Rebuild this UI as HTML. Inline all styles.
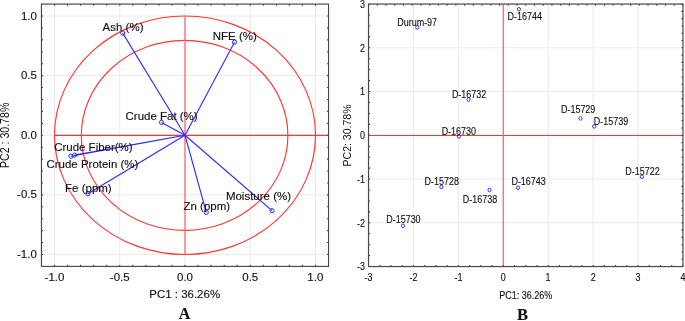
<!DOCTYPE html>
<html><head><meta charset="utf-8"><title>PCA plots</title>
<style>html,body{margin:0;padding:0;background:#fff;width:685px;height:321px;overflow:hidden}svg{display:block}</style>
</head><body>
<svg width="685" height="321" viewBox="0 0 685 321">
<rect width="685" height="321" fill="#fff"/>
<path d="M54.50 4.07V266.43M41.45 254.50H328.55M119.75 4.07V266.43M41.45 194.88H328.55M185.00 4.07V266.43M41.45 135.25H328.55M250.25 4.07V266.43M41.45 75.62H328.55M315.50 4.07V266.43M41.45 16.00H328.55" stroke="#eaeaea" stroke-width="1" fill="none"/>
<ellipse cx="185.0" cy="135.25" rx="130.5" ry="119.25" stroke="#ff3535" stroke-width="1.15" fill="none"/>
<ellipse cx="184.6" cy="135.4" rx="103.3" ry="95.0" stroke="#ff3535" stroke-width="1.15" fill="none"/>
<path d="M54.50 135.35H328.55" stroke="#ff3535" stroke-width="1.15" fill="none"/>
<path d="M185.00 16.00V254.50" stroke="#ff7272" stroke-width="1.4" fill="none"/>
<path d="M54.50 4.07v1.6M54.50 266.43v-1.6M41.45 254.50h1.6M328.55 254.50h-1.6M67.55 4.07v1.6M67.55 266.43v-1.6M41.45 242.57h1.6M328.55 242.57h-1.6M80.60 4.07v1.6M80.60 266.43v-1.6M41.45 230.65h1.6M328.55 230.65h-1.6M93.65 4.07v1.6M93.65 266.43v-1.6M41.45 218.72h1.6M328.55 218.72h-1.6M106.70 4.07v1.6M106.70 266.43v-1.6M41.45 206.80h1.6M328.55 206.80h-1.6M119.75 4.07v1.6M119.75 266.43v-1.6M41.45 194.88h1.6M328.55 194.88h-1.6M132.80 4.07v1.6M132.80 266.43v-1.6M41.45 182.95h1.6M328.55 182.95h-1.6M145.85 4.07v1.6M145.85 266.43v-1.6M41.45 171.03h1.6M328.55 171.03h-1.6M158.90 4.07v1.6M158.90 266.43v-1.6M41.45 159.10h1.6M328.55 159.10h-1.6M171.95 4.07v1.6M171.95 266.43v-1.6M41.45 147.18h1.6M328.55 147.18h-1.6M185.00 4.07v1.6M185.00 266.43v-1.6M41.45 135.25h1.6M328.55 135.25h-1.6M198.05 4.07v1.6M198.05 266.43v-1.6M41.45 123.33h1.6M328.55 123.33h-1.6M211.10 4.07v1.6M211.10 266.43v-1.6M41.45 111.40h1.6M328.55 111.40h-1.6M224.15 4.07v1.6M224.15 266.43v-1.6M41.45 99.47h1.6M328.55 99.47h-1.6M237.20 4.07v1.6M237.20 266.43v-1.6M41.45 87.55h1.6M328.55 87.55h-1.6M250.25 4.07v1.6M250.25 266.43v-1.6M41.45 75.62h1.6M328.55 75.62h-1.6M263.30 4.07v1.6M263.30 266.43v-1.6M41.45 63.70h1.6M328.55 63.70h-1.6M276.35 4.07v1.6M276.35 266.43v-1.6M41.45 51.78h1.6M328.55 51.78h-1.6M289.40 4.07v1.6M289.40 266.43v-1.6M41.45 39.85h1.6M328.55 39.85h-1.6M302.45 4.07v1.6M302.45 266.43v-1.6M41.45 27.92h1.6M328.55 27.92h-1.6M315.50 4.07v1.6M315.50 266.43v-1.6M41.45 16.00h1.6M328.55 16.00h-1.6" stroke="#484848" stroke-width="1.1" fill="none"/>
<rect x="41.45" y="4.07" width="287.10" height="262.35" stroke="#484848" stroke-width="1.15" fill="none"/>
<path d="M185.00 135.25L122.70 33.10M185.00 135.25L234.50 42.20M185.00 135.25L161.50 122.40M185.00 135.25L70.90 156.20M185.00 135.25L74.60 155.10M185.00 135.25L87.90 193.70M185.00 135.25L206.30 212.40M185.00 135.25L272.00 210.70" stroke="#2a2aff" stroke-width="1.1" fill="none"/>
<circle cx="122.7" cy="33.1" r="2.1" stroke="#2a2aff" stroke-width="1" fill="none"/>
<circle cx="234.5" cy="42.2" r="2.1" stroke="#2a2aff" stroke-width="1" fill="none"/>
<circle cx="161.5" cy="122.4" r="2.1" stroke="#2a2aff" stroke-width="1" fill="none"/>
<circle cx="70.9" cy="156.2" r="2.1" stroke="#2a2aff" stroke-width="1" fill="none"/>
<circle cx="74.6" cy="155.1" r="2.1" stroke="#2a2aff" stroke-width="1" fill="none"/>
<circle cx="87.9" cy="193.7" r="2.1" stroke="#2a2aff" stroke-width="1" fill="none"/>
<circle cx="206.3" cy="212.4" r="2.1" stroke="#2a2aff" stroke-width="1" fill="none"/>
<circle cx="272.0" cy="210.7" r="2.1" stroke="#2a2aff" stroke-width="1" fill="none"/>
<text transform="translate(102.61 30.90) scale(1.1156 1)" font-size="10.3" font-family='"Liberation Sans", Arial, sans-serif' fill="#111" stroke="#111" stroke-width="0.12">Ash (%)</text>
<text transform="translate(212.76 39.80) scale(1.1156 1)" font-size="10.3" font-family='"Liberation Sans", Arial, sans-serif' fill="#111" stroke="#111" stroke-width="0.12">NFE (%)</text>
<text transform="translate(125.54 119.80) scale(1.1156 1)" font-size="10.3" font-family='"Liberation Sans", Arial, sans-serif' fill="#111" stroke="#111" stroke-width="0.12">Crude Fat (%)</text>
<text transform="translate(54.14 150.70) scale(1.1156 1)" font-size="10.3" font-family='"Liberation Sans", Arial, sans-serif' fill="#111" stroke="#111" stroke-width="0.12">Crude Fiber(%)</text>
<text transform="translate(46.43 167.90) scale(1.1156 1)" font-size="10.3" font-family='"Liberation Sans", Arial, sans-serif' fill="#111" stroke="#111" stroke-width="0.12">Crude Protein (%)</text>
<text transform="translate(65.08 192.40) scale(1.1156 1)" font-size="10.3" font-family='"Liberation Sans", Arial, sans-serif' fill="#111" stroke="#111" stroke-width="0.12">Fe (ppm)</text>
<text transform="translate(183.47 209.90) scale(1.1156 1)" font-size="10.3" font-family='"Liberation Sans", Arial, sans-serif' fill="#111" stroke="#111" stroke-width="0.12">Zn (ppm)</text>
<text transform="translate(225.92 199.90) scale(1.1156 1)" font-size="10.3" font-family='"Liberation Sans", Arial, sans-serif' fill="#111" stroke="#111" stroke-width="0.12">Moisture (%)</text>
<text transform="translate(149.23 298.10) scale(1.1156 1)" font-size="10.3" font-family='"Liberation Sans", Arial, sans-serif' fill="#111" stroke="#111" stroke-width="0.12">PC1 : 36.26%</text>
<text transform="translate(20.88 19.50) scale(1.1156 1)" font-size="10.3" font-family='"Liberation Sans", Arial, sans-serif' fill="#111" stroke="#111" stroke-width="0.12">1.0</text>
<text transform="translate(307.30 280.90) scale(1.1156 1)" font-size="10.3" font-family='"Liberation Sans", Arial, sans-serif' fill="#111" stroke="#111" stroke-width="0.12">1.0</text>
<text transform="translate(20.91 79.12) scale(1.1156 1)" font-size="10.3" font-family='"Liberation Sans", Arial, sans-serif' fill="#111" stroke="#111" stroke-width="0.12">0.5</text>
<text transform="translate(242.28 280.90) scale(1.1156 1)" font-size="10.3" font-family='"Liberation Sans", Arial, sans-serif' fill="#111" stroke="#111" stroke-width="0.12">0.5</text>
<text transform="translate(20.88 138.75) scale(1.1156 1)" font-size="10.3" font-family='"Liberation Sans", Arial, sans-serif' fill="#111" stroke="#111" stroke-width="0.12">0.0</text>
<text transform="translate(177.01 280.90) scale(1.1156 1)" font-size="10.3" font-family='"Liberation Sans", Arial, sans-serif' fill="#111" stroke="#111" stroke-width="0.12">0.0</text>
<text transform="translate(17.08 198.38) scale(1.1156 1)" font-size="10.3" font-family='"Liberation Sans", Arial, sans-serif' fill="#111" stroke="#111" stroke-width="0.12">-0.5</text>
<text transform="translate(109.84 280.90) scale(1.1156 1)" font-size="10.3" font-family='"Liberation Sans", Arial, sans-serif' fill="#111" stroke="#111" stroke-width="0.12">-0.5</text>
<text transform="translate(17.05 258.00) scale(1.1156 1)" font-size="10.3" font-family='"Liberation Sans", Arial, sans-serif' fill="#111" stroke="#111" stroke-width="0.12">-1.0</text>
<text transform="translate(44.57 280.90) scale(1.1156 1)" font-size="10.3" font-family='"Liberation Sans", Arial, sans-serif' fill="#111" stroke="#111" stroke-width="0.12">-1.0</text>
<text transform="translate(8.80 167.97) rotate(-90) scale(0.9990 1.2000)" font-size="10.6" font-family='"Liberation Sans", Arial, sans-serif' fill="#111">PC2 : 30.78%</text>
<text transform="translate(178.68 319.10) scale(0.9500 1)" font-size="16.9" font-family='"Liberation Serif", "Times New Roman", serif' font-weight="bold" fill="#111" stroke="#111" stroke-width="0.12">A</text>
<path d="M413.46 4.05V266.55M458.38 4.05V266.55M548.22 4.05V266.55M593.14 4.05V266.55M638.06 4.05V266.55M368.54 222.80H682.98M368.54 179.05H682.98M368.54 91.55H682.98M368.54 47.80H682.98" stroke="#eaeaea" stroke-width="1" fill="none"/>
<path d="M368.54 135.45H682.98" stroke="#ff3535" stroke-width="1.15" fill="none"/>
<path d="M503.30 4.05V266.55" stroke="#ff7272" stroke-width="1.4" fill="none"/>
<path d="M368.54 266.55v-1.6M379.77 266.55v-1.6M391.00 266.55v-1.6M402.23 266.55v-1.6M413.46 266.55v-1.6M424.69 266.55v-1.6M435.92 266.55v-1.6M447.15 266.55v-1.6M458.38 266.55v-1.6M469.61 266.55v-1.6M480.84 266.55v-1.6M492.07 266.55v-1.6M503.30 266.55v-1.6M514.53 266.55v-1.6M525.76 266.55v-1.6M536.99 266.55v-1.6M548.22 266.55v-1.6M559.45 266.55v-1.6M570.68 266.55v-1.6M581.91 266.55v-1.6M593.14 266.55v-1.6M604.37 266.55v-1.6M615.60 266.55v-1.6M626.83 266.55v-1.6M638.06 266.55v-1.6M649.29 266.55v-1.6M660.52 266.55v-1.6M671.75 266.55v-1.6M682.98 266.55v-1.6M368.54 266.55h1.6M368.54 255.61h1.6M368.54 244.68h1.6M368.54 233.74h1.6M368.54 222.80h1.6M368.54 211.86h1.6M368.54 200.93h1.6M368.54 189.99h1.6M368.54 179.05h1.6M368.54 168.11h1.6M368.54 157.18h1.6M368.54 146.24h1.6M368.54 135.30h1.6M368.54 124.36h1.6M368.54 113.43h1.6M368.54 102.49h1.6M368.54 91.55h1.6M368.54 80.61h1.6M368.54 69.68h1.6M368.54 58.74h1.6M368.54 47.80h1.6M368.54 36.86h1.6M368.54 25.93h1.6M368.54 14.99h1.6M368.54 4.05h1.6M368.54 4.05v1.6M682.98 4.05h-1.6M377.27 4.05v1.6M682.98 11.34h-1.6M386.01 4.05v1.6M682.98 18.63h-1.6M394.74 4.05v1.6M682.98 25.93h-1.6M403.48 4.05v1.6M682.98 33.22h-1.6M412.21 4.05v1.6M682.98 40.51h-1.6M420.95 4.05v1.6M682.98 47.80h-1.6M429.68 4.05v1.6M682.98 55.09h-1.6M438.42 4.05v1.6M682.98 62.38h-1.6M447.15 4.05v1.6M682.98 69.68h-1.6M455.88 4.05v1.6M682.98 76.97h-1.6M464.62 4.05v1.6M682.98 84.26h-1.6M473.35 4.05v1.6M682.98 91.55h-1.6M482.09 4.05v1.6M682.98 98.84h-1.6M490.82 4.05v1.6M682.98 106.13h-1.6M499.56 4.05v1.6M682.98 113.43h-1.6M508.29 4.05v1.6M682.98 120.72h-1.6M517.03 4.05v1.6M682.98 128.01h-1.6M525.76 4.05v1.6M682.98 135.30h-1.6M534.49 4.05v1.6M682.98 142.59h-1.6M543.23 4.05v1.6M682.98 149.88h-1.6M551.96 4.05v1.6M682.98 157.18h-1.6M560.70 4.05v1.6M682.98 164.47h-1.6M569.43 4.05v1.6M682.98 171.76h-1.6M578.17 4.05v1.6M682.98 179.05h-1.6M586.90 4.05v1.6M682.98 186.34h-1.6M595.64 4.05v1.6M682.98 193.63h-1.6M604.37 4.05v1.6M682.98 200.93h-1.6M613.10 4.05v1.6M682.98 208.22h-1.6M621.84 4.05v1.6M682.98 215.51h-1.6M630.57 4.05v1.6M682.98 222.80h-1.6M639.31 4.05v1.6M682.98 230.09h-1.6M648.04 4.05v1.6M682.98 237.38h-1.6M656.78 4.05v1.6M682.98 244.68h-1.6M665.51 4.05v1.6M682.98 251.97h-1.6M674.25 4.05v1.6M682.98 259.26h-1.6M682.98 4.05v1.6M682.98 266.55h-1.6" stroke="#484848" stroke-width="1.1" fill="none"/>
<rect x="368.54" y="4.05" width="314.44" height="262.50" stroke="#484848" stroke-width="1.2" fill="none"/>
<ellipse cx="417.3" cy="27.4" rx="1.6" ry="1.8" stroke="#2a2aff" stroke-width="0.95" fill="none"/>
<ellipse cx="518.9" cy="9.3" rx="1.6" ry="1.8" stroke="#2a2aff" stroke-width="0.95" fill="none"/>
<ellipse cx="468.6" cy="99.6" rx="1.6" ry="1.8" stroke="#2a2aff" stroke-width="0.95" fill="none"/>
<ellipse cx="458.9" cy="136.4" rx="1.6" ry="1.8" stroke="#2a2aff" stroke-width="0.95" fill="none"/>
<ellipse cx="580.5" cy="118.4" rx="1.6" ry="1.8" stroke="#2a2aff" stroke-width="0.95" fill="none"/>
<ellipse cx="594.2" cy="126.4" rx="1.6" ry="1.8" stroke="#2a2aff" stroke-width="0.95" fill="none"/>
<ellipse cx="641.9" cy="176.8" rx="1.6" ry="1.8" stroke="#2a2aff" stroke-width="0.95" fill="none"/>
<ellipse cx="441.4" cy="187.0" rx="1.6" ry="1.8" stroke="#2a2aff" stroke-width="0.95" fill="none"/>
<ellipse cx="489.5" cy="189.9" rx="1.6" ry="1.8" stroke="#2a2aff" stroke-width="0.95" fill="none"/>
<ellipse cx="518.0" cy="187.7" rx="1.6" ry="1.8" stroke="#2a2aff" stroke-width="0.95" fill="none"/>
<ellipse cx="403.0" cy="225.8" rx="1.6" ry="1.8" stroke="#2a2aff" stroke-width="0.95" fill="none"/>
<text transform="translate(397.19 26.10) scale(0.8982 1)" font-size="10.0" font-family='"Liberation Sans", Arial, sans-serif' fill="#111" stroke="#111" stroke-width="0.12">Durum-97</text>
<text transform="translate(507.59 20.20) scale(0.8982 1)" font-size="10.0" font-family='"Liberation Sans", Arial, sans-serif' fill="#111" stroke="#111" stroke-width="0.12">D-16744</text>
<text transform="translate(451.88 98.30) scale(0.8982 1)" font-size="10.0" font-family='"Liberation Sans", Arial, sans-serif' fill="#111" stroke="#111" stroke-width="0.12">D-16732</text>
<text transform="translate(441.63 135.30) scale(0.8982 1)" font-size="10.0" font-family='"Liberation Sans", Arial, sans-serif' fill="#111" stroke="#111" stroke-width="0.12">D-16730</text>
<text transform="translate(560.92 112.60) scale(0.8982 1)" font-size="10.0" font-family='"Liberation Sans", Arial, sans-serif' fill="#111" stroke="#111" stroke-width="0.12">D-15729</text>
<text transform="translate(593.87 124.80) scale(0.8982 1)" font-size="10.0" font-family='"Liberation Sans", Arial, sans-serif' fill="#111" stroke="#111" stroke-width="0.12">D-15739</text>
<text transform="translate(625.28 174.80) scale(0.8982 1)" font-size="10.0" font-family='"Liberation Sans", Arial, sans-serif' fill="#111" stroke="#111" stroke-width="0.12">D-15722</text>
<text transform="translate(424.45 185.30) scale(0.8982 1)" font-size="10.0" font-family='"Liberation Sans", Arial, sans-serif' fill="#111" stroke="#111" stroke-width="0.12">D-15728</text>
<text transform="translate(462.85 202.90) scale(0.8982 1)" font-size="10.0" font-family='"Liberation Sans", Arial, sans-serif' fill="#111" stroke="#111" stroke-width="0.12">D-16738</text>
<text transform="translate(511.40 184.60) scale(0.8982 1)" font-size="10.0" font-family='"Liberation Sans", Arial, sans-serif' fill="#111" stroke="#111" stroke-width="0.12">D-16743</text>
<text transform="translate(386.18 222.90) scale(0.8982 1)" font-size="10.0" font-family='"Liberation Sans", Arial, sans-serif' fill="#111" stroke="#111" stroke-width="0.12">D-15730</text>
<text transform="translate(499.23 298.50) scale(0.8982 1)" font-size="10.0" font-family='"Liberation Sans", Arial, sans-serif' fill="#111" stroke="#111" stroke-width="0.12">PC1: 36.26%</text>
<text transform="translate(360.00 7.95) scale(0.8982 1)" font-size="10.0" font-family='"Liberation Sans", Arial, sans-serif' fill="#111" stroke="#111" stroke-width="0.12">3</text>
<text transform="translate(360.06 51.70) scale(0.8982 1)" font-size="10.0" font-family='"Liberation Sans", Arial, sans-serif' fill="#111" stroke="#111" stroke-width="0.12">2</text>
<text transform="translate(360.05 95.45) scale(0.8982 1)" font-size="10.0" font-family='"Liberation Sans", Arial, sans-serif' fill="#111" stroke="#111" stroke-width="0.12">1</text>
<text transform="translate(359.96 139.20) scale(0.8982 1)" font-size="10.0" font-family='"Liberation Sans", Arial, sans-serif' fill="#111" stroke="#111" stroke-width="0.12">0</text>
<text transform="translate(357.06 182.95) scale(0.8982 1)" font-size="10.0" font-family='"Liberation Sans", Arial, sans-serif' fill="#111" stroke="#111" stroke-width="0.12">-1</text>
<text transform="translate(357.06 226.70) scale(0.8982 1)" font-size="10.0" font-family='"Liberation Sans", Arial, sans-serif' fill="#111" stroke="#111" stroke-width="0.12">-2</text>
<text transform="translate(357.01 270.45) scale(0.8982 1)" font-size="10.0" font-family='"Liberation Sans", Arial, sans-serif' fill="#111" stroke="#111" stroke-width="0.12">-3</text>
<text transform="translate(364.55 280.90) scale(0.8982 1)" font-size="10.0" font-family='"Liberation Sans", Arial, sans-serif' fill="#111" stroke="#111" stroke-width="0.12">-3</text>
<text transform="translate(409.49 280.90) scale(0.8982 1)" font-size="10.0" font-family='"Liberation Sans", Arial, sans-serif' fill="#111" stroke="#111" stroke-width="0.12">-2</text>
<text transform="translate(454.41 280.90) scale(0.8982 1)" font-size="10.0" font-family='"Liberation Sans", Arial, sans-serif' fill="#111" stroke="#111" stroke-width="0.12">-1</text>
<text transform="translate(500.80 280.90) scale(0.8982 1)" font-size="10.0" font-family='"Liberation Sans", Arial, sans-serif' fill="#111" stroke="#111" stroke-width="0.12">0</text>
<text transform="translate(545.60 280.90) scale(0.8982 1)" font-size="10.0" font-family='"Liberation Sans", Arial, sans-serif' fill="#111" stroke="#111" stroke-width="0.12">1</text>
<text transform="translate(590.64 280.90) scale(0.8982 1)" font-size="10.0" font-family='"Liberation Sans", Arial, sans-serif' fill="#111" stroke="#111" stroke-width="0.12">2</text>
<text transform="translate(635.59 280.90) scale(0.8982 1)" font-size="10.0" font-family='"Liberation Sans", Arial, sans-serif' fill="#111" stroke="#111" stroke-width="0.12">3</text>
<text transform="translate(680.51 280.90) scale(0.8982 1)" font-size="10.0" font-family='"Liberation Sans", Arial, sans-serif' fill="#111" stroke="#111" stroke-width="0.12">4</text>
<text transform="translate(350.90 166.46) rotate(-90) scale(1.0221 1.0600)" font-size="10.3" font-family='"Liberation Sans", Arial, sans-serif' fill="#111">PC2: 30.78%</text>
<text transform="translate(517.04 320.40) scale(1.0000 1)" font-size="16.5" font-family='"Liberation Serif", "Times New Roman", serif' font-weight="bold" fill="#111" stroke="#111" stroke-width="0.12">B</text>
</svg>
</body></html>
